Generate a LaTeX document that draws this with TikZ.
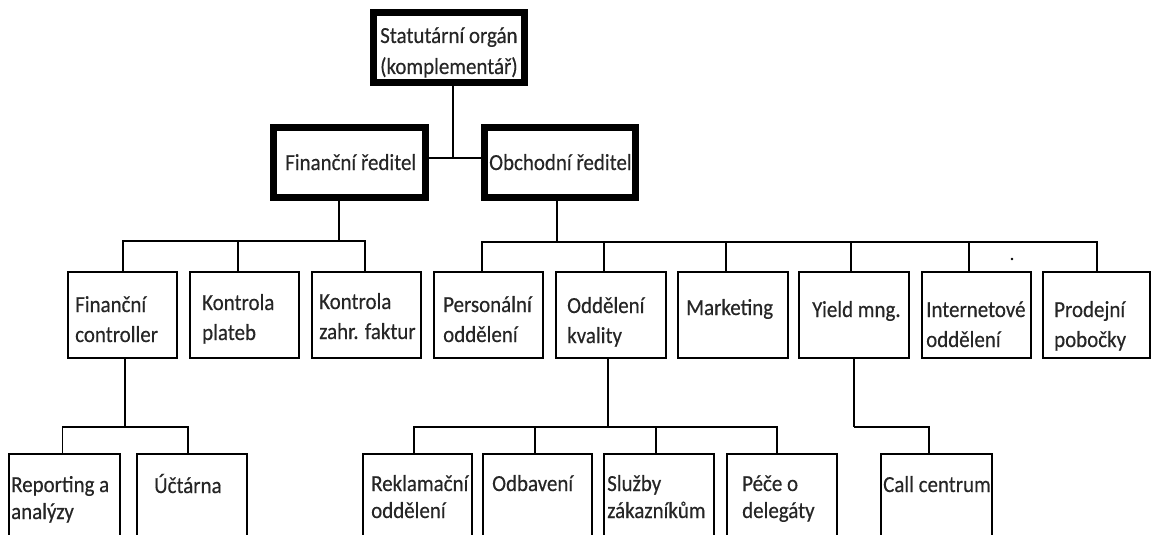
\documentclass[tikz,border=0pt]{standalone}
\usepackage{fontspec}
\setmainfont{Carlito}[FakeStretch=0.91,FakeBold=0.4]
\newcommand\lines[1]{\begin{tabular}[t]{@{}l@{}}#1\end{tabular}}
\begin{document}
\begin{tikzpicture}[x=1pt,y=-1pt,
  thickbox/.style={draw, line width=7pt, inner sep=0pt, outer sep=0pt},
  thinbox/.style={draw, line width=1.8pt, inner sep=0pt, outer sep=0pt},
  wire/.style={line width=1.8pt},
  lbl/.style={inner sep=0pt, anchor=base west, text=black!85, font=\fontsize{23}{30}\selectfont},
  lblb/.style={lbl, font=\fontsize{23}{27}\selectfont},
  lblt/.style={lbl, font=\fontsize{23}{31}\selectfont}]
\useasboundingbox (0,0) rectangle (1151,535);
\clip (0,0) rectangle (1151,535);
% level 1 and 2 (thick)
\node[thickbox, minimum width=151pt, minimum height=70pt] (top)  at (449,47.5) {};
\node[thickbox, minimum width=152pt, minimum height=70pt] (fin)  at (349.5,162.5) {};
\node[thickbox, minimum width=151pt, minimum height=70pt] (obch) at (560,162.5) {};
% row 2
\node[thinbox, minimum width=109pt, minimum height=86pt] (fc) at (122.5,315) {};
\node[thinbox, minimum width=109pt, minimum height=86pt] (kp) at (244.5,315) {};
\node[thinbox, minimum width=109pt, minimum height=86pt] (kz) at (366.5,315) {};
\node[thinbox, minimum width=109pt, minimum height=86pt] (po) at (488.5,315) {};
\node[thinbox, minimum width=110pt, minimum height=86pt] (ok) at (611,315) {};
\node[thinbox, minimum width=110pt, minimum height=86pt] (mk) at (733,315) {};
\node[thinbox, minimum width=110pt, minimum height=86pt] (ym) at (854,315) {};
\node[thinbox, minimum width=109pt, minimum height=86pt] (io) at (976.5,315) {};
\node[thinbox, minimum width=107pt, minimum height=86pt] (pp) at (1096.5,315) {};
% row 3
\node[thinbox, minimum width=111pt, minimum height=116pt] (rp) at (64.5,512) {};
\node[thinbox, minimum width=110pt, minimum height=116pt] (uc) at (192,512) {};
\node[thinbox, minimum width=109pt, minimum height=116pt] (rk) at (417.5,512) {};
\node[thinbox, minimum width=109pt, minimum height=116pt] (ob) at (537.5,512) {};
\node[thinbox, minimum width=110pt, minimum height=116pt] (sz) at (659,512) {};
\node[thinbox, minimum width=110pt, minimum height=116pt] (pd) at (782,512) {};
\node[thinbox, minimum width=111pt, minimum height=116pt] (cc) at (936.5,512) {};
% connectors
\coordinate (j0) at (453,158);
\draw[wire] (top.south -| j0) -- (j0);
\draw[wire] (fin.east |- j0) -- (obch.west |- j0);
\coordinate (bl) at (339,241);
\draw[wire] (fin.south -| bl) -- (bl);
\draw[wire] ([xshift=0.5pt]fc.north) |- (bl);
\draw[wire] ([xshift=-6.5pt]kp.north) |- (bl);
\draw[wire] ([xshift=-1.5pt]kz.north) |- (bl);
\coordinate (br) at (557,242);
\draw[wire] (obch.south -| br) -- (br);
\draw[wire] ([xshift=-6.5pt]po.north) |- (br);
\draw[wire] ([xshift=-7pt]ok.north) |- (br);
\draw[wire] ([xshift=-7pt]mk.north) |- (br);
\draw[wire] ([xshift=-3pt]ym.north) |- (br);
\draw[wire] ([xshift=-7.5pt]io.north) |- (br);
\draw[wire] ([xshift=0.5pt]pp.north) |- (br);
\coordinate (b3l) at (125,427);
\draw[wire] (fc.south -| b3l) -- (b3l);
\draw[wire] ([xshift=-2pt]rp.north) |- (b3l);
\draw[wire] ([xshift=-4pt]uc.north) |- (b3l);
\coordinate (b3m) at (608,427);
\draw[wire] (ok.south -| b3m) -- (b3m);
\draw[wire] ([xshift=-3.5pt]rk.north) |- (b3m);
\draw[wire] ([xshift=-2.5pt]ob.north) |- (b3m);
\draw[wire] ([xshift=-3pt]sz.north) |- (b3m);
\draw[wire] ([xshift=-5pt]pd.north) |- (b3m);
\coordinate (b3r) at (854,427);
\draw[wire] (ym.south -| b3r) -- (b3r);
\draw[wire] ([xshift=-7.5pt]cc.north) |- (b3r);
\fill (1012,259) circle (1.3pt);
% texts
\node[lblt] (top-t) at (380,43) {\lines{Statutární orgán\\(komplementář)}};
\node[lbl] (fin-t) at (285,170) {Finanční ředitel};
\node[lbl] (obch-t) at (489,170) {Obchodní ředitel};
\node[lbl] (fc-t) at (75,312) {\lines{Finanční\\controller}};
\node[lbl] (kp-t) at (202,310) {\lines{Kontrola\\plateb}};
\node[lbl] (kz-t) at (319,309) {\lines{Kontrola\\zahr. faktur}};
\node[lbl] (po-t) at (443,312) {\lines{Personální\\oddělení}};
\node[lbl] (ok-t) at (567,313) {\lines{Oddělení\\kvality}};
\node[lbl] (mk-t) at (686,315) {Marketing};
\node[lbl] (ym-t) at (812,317) {Yield mng.};
\node[lbl] (io-t) at (926,317) {\lines{Internetové\\oddělení}};
\node[lbl] (pp-t) at (1054,317) {\lines{Prodejní\\pobočky}};
\node[lblb] (rp-t) at (11,492) {\lines{Reporting a\\analýzy}};
\node[lblb] (uc-t) at (154,493) {Účtárna};
\node[lblb] (rk-t) at (371,491) {\lines{Reklamační\\oddělení}};
\node[lblb] (ob-t) at (492,491) {Odbavení};
\node[lblb] (sz-t) at (607,491) {\lines{Služby\\zákazníkům}};
\node[lblb] (pd-t) at (742,491) {\lines{Péče o\\delegáty}};
\node[lblb] (cc-t) at (883,492) {Call centrum};
\end{tikzpicture}
\end{document}
